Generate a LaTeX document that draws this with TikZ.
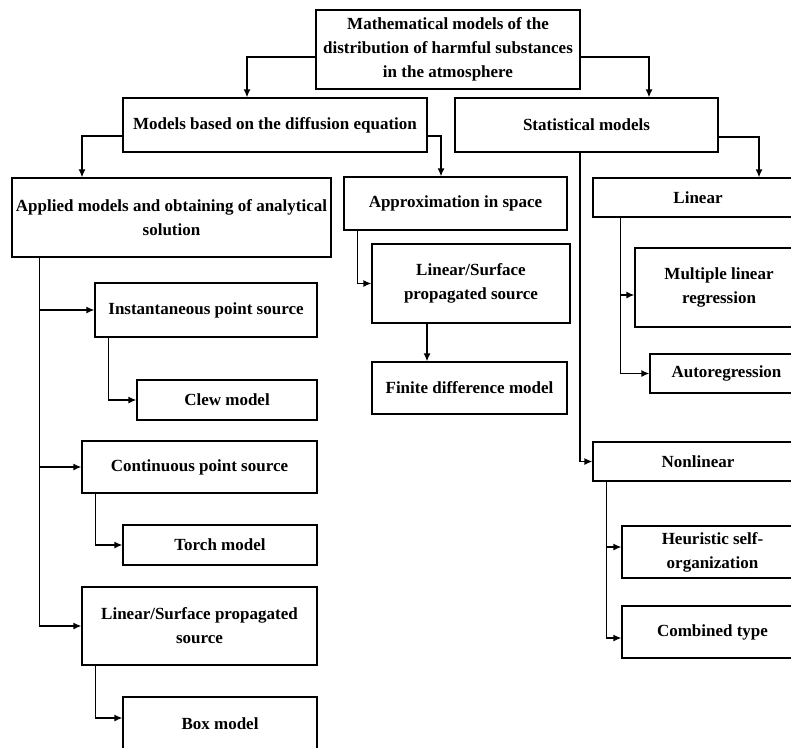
\documentclass[tikz,border=0pt]{standalone}
\usepackage{fontspec}
\setmainfont{Liberation Serif}
\usetikzlibrary{arrows.meta}
\begin{document}
\begin{tikzpicture}[x=1pt,y=-1pt,
  box/.style={draw, line width=1.3pt, inner sep=0pt, align=center, font={\fontsize{17pt}{24pt}\selectfont\bfseries}},
  arr/.style={-{Latex[length=8pt,width=7pt]}, line width=1.3pt}]
            \useasboundingbox (0,0) rectangle (791,747);
            \clip (0,0) rectangle (791,747);
            \node[box, minimum width=264pt, minimum height=79pt] at (448,49.5) (top) {Mathematical models of the\\distribution of harmful substances\\in the atmosphere};
            \node[box, minimum width=304pt, minimum height=54pt] at (275,125) (mod) {Models based on the diffusion equation};
            \node[box, minimum width=263pt, minimum height=54pt] at (586.5,125) (stat) {Statistical models};
            \node[box, minimum width=319pt, minimum height=79pt] at (171.5,217.5) (app) {Applied models and obtaining of analytical\\solution};
            \node[box, minimum width=223pt, minimum height=53pt] at (455.5,203.5) (apx) {Approximation in space};
            \node[box, minimum width=210pt, minimum height=39pt] at (698,197.5) (lin) {Linear};
            \node[box, minimum width=222pt, minimum height=54pt] at (206,310) (ips) {Instantaneous point source};
            \node[box, minimum width=180pt, minimum height=40pt] at (227,400) (clew) {Clew model};
            \node[box, minimum width=235pt, minimum height=52pt] at (199.5,467) (cps) {Continuous point source};
            \node[box, minimum width=194pt, minimum height=40pt] at (220,545) (torch) {Torch model};
            \node[box, minimum width=235pt, minimum height=78pt] at (199.5,626) (lsl) {Linear/Surface propagated\\source};
            \node[box, minimum width=194pt, minimum height=53pt] at (220,723.5) (boxm) {Box model};
            \node[box, minimum width=198pt, minimum height=79pt] at (471,283.5) (lsm) {Linear/Surface\\propagated source};
            \node[box, minimum width=195pt, minimum height=52pt] at (469.5,388) (fdm) {Finite difference model};
            \node[box, minimum width=168pt, minimum height=79pt] at (719,287.5) (mlr) {Multiple linear\\regression};
            \node[box, minimum width=153pt, minimum height=39pt] at (726.5,373.5) (ar) {Autoregression};
            \node[box, minimum width=210pt, minimum height=39pt] at (698,461.5) (nl) {Nonlinear};
            \node[box, minimum width=181pt, minimum height=52pt] at (712.5,552) (heu) {Heuristic self-\\organization};
            \node[box, minimum width=181pt, minimum height=52pt] at (712.5,632) (comb) {Combined type};
            \draw[arr] ([yshift=-7.5pt]top.west) -| ([xshift=-28pt]mod.north);
            \draw[arr] ([yshift=-7.5pt]top.east) -| ([xshift=62.5pt]stat.north);
            \draw[arr] ([yshift=-11pt]mod.west) -| ([xshift=-89.5pt]app.north);
            \draw[arr] ([yshift=-11pt]mod.east) -| ([xshift=-14.5pt]apx.north);
            \draw[arr] ([yshift=-12pt]stat.east) -| ([xshift=61pt]lin.north);
            \draw[arr] ([xshift=28pt]app.south west) |- (ips.west);
            \draw[arr] ([xshift=28pt]app.south west) |- (cps.west);
            \draw[arr] ([xshift=28pt]app.south west) |- (lsl.west);
            \draw[arr] ([xshift=14pt]ips.south west) |- (clew.west);
            \draw[arr] ([xshift=14pt]cps.south west) |- (torch.west);
            \draw[arr] ([xshift=14pt]lsl.south west) |- ([yshift=5.5pt]boxm.west);
            \draw[arr] ([xshift=14pt]apx.south west) |- (lsm.west);
            \draw[arr] ([xshift=-44pt]lsm.south) coordinate (q) -- (q |- fdm.north);
            \draw[arr] ([xshift=-6.5pt]stat.south) |- (nl.west);
            \draw[arr] ([xshift=28pt]lin.south west) |- ([yshift=-7.5pt]mlr.west);
            \draw[arr] ([xshift=28pt]lin.south west) |- (ar.west);
            \draw[arr] ([xshift=14pt]nl.south west) |- ([yshift=5pt]heu.west);
            \draw[arr] ([xshift=14pt]nl.south west) |- ([yshift=-6pt]comb.west);
\end{tikzpicture}
\end{document}
